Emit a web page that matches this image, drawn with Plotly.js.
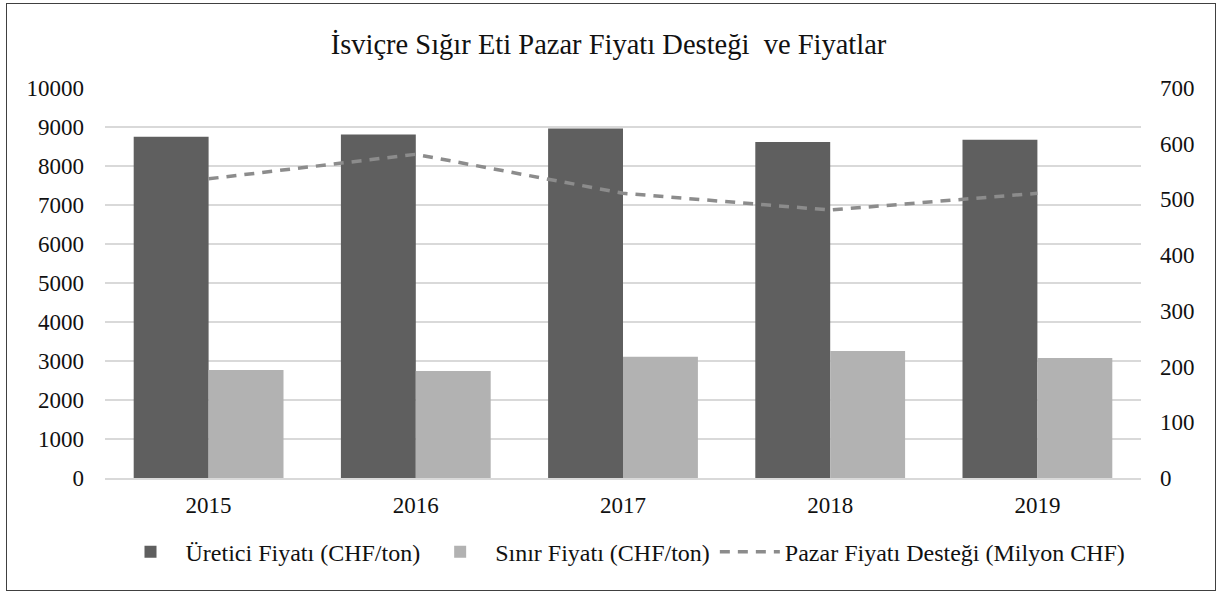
<!DOCTYPE html>
<html>
<head>
<meta charset="utf-8">
<script src="https://cdn.plot.ly/plotly-3.0.1.min.js"></script>
<style>
html,body{margin:0;padding:0;background:#fff;}
#wrap{position:relative;width:1217px;height:592px;}
#chart{position:absolute;left:0;top:0;width:1217px;height:592px;}
#frame{position:absolute;left:6px;top:3px;width:1208px;height:586px;border:1px solid #404040;pointer-events:none;}
</style>
</head>
<body>
<div id="wrap"><div id="chart"></div><div id="frame"></div></div>
<script>
const years = ['2015','2016','2017','2018','2019'];
const ureticiFiyati = [8750, 8810, 8960, 8615, 8670];
const sinirFiyati = [2770, 2745, 3110, 3255, 3075];
const pazarFiyatiDestegi = [537, 581, 511, 481, 511];
const seriesNames = ['Üretici Fiyatı (CHF/ton)', 'Sınır Fiyatı (CHF/ton)', 'Pazar Fiyatı Desteği (Milyon CHF)'];
const leftTicks = [0,1000,2000,3000,4000,5000,6000,7000,8000,9000,10000];
const rightTicks = [0,100,200,300,400,500,600,700];

const fontFam = 'Liberation Serif, Times New Roman, serif';

const traces = [
  {type:'bar', x:years, y:ureticiFiyati, name:seriesNames[0], marker:{color:'#5f5f5f'}, yaxis:'y'},
  {type:'bar', x:years, y:sinirFiyati, name:seriesNames[1], marker:{color:'#b2b2b2'}, yaxis:'y'},
  {type:'scatter', mode:'lines', x:years, y:pazarFiyatiDestegi, name:seriesNames[2], yaxis:'y2',
   line:{color:'#8c8c8c', width:3.5, dash:'10px,8px'}}
];

const layout = {
  width:1217, height:592,
  margin:{l:105, r:76, t:88, b:114},
  paper_bgcolor:'#ffffff', plot_bgcolor:'#ffffff',
  font:{family:fontFam, size:23, color:'#111'},
  title:{text:'İsviçre Sığır Eti Pazar Fiyatı Desteği  ve Fiyatlar', x:0.5, xanchor:'center', y:0.925, yanchor:'middle',
         font:{family:fontFam, size:28.5, color:'#111'}},
  barmode:'group', bargap:0.277, bargroupgap:0,
  showlegend:true,
  legend:{orientation:'h', x:0.5, xanchor:'center', y:-0.19, yanchor:'middle', itemwidth:60, font:{family:fontFam, size:24, color:'#111'}, traceorder:'normal'},
  xaxis:{type:'category', showgrid:false, showline:true, linecolor:'#d9d9d9', linewidth:1.5, ticks:'', tickfont:{family:fontFam, size:23, color:'#111'}, ticklabelstandoff:6},
  yaxis:{range:[0,10000], tickvals:leftTicks, ticktext:leftTicks.map(String), showgrid:true, gridcolor:'#d9d9d9', gridwidth:1.3, zeroline:false, showline:false, ticks:'', tickfont:{family:fontFam, size:23, color:'#111'}, ticklabelstandoff:20},
  yaxis2:{range:[0,700], tickvals:rightTicks, ticktext:rightTicks.map(String), overlaying:'y', side:'right', showgrid:false, zeroline:false, showline:false, ticks:'', tickfont:{family:fontFam, size:23, color:'#111'}, ticklabelstandoff:18}
};

Plotly.newPlot('chart', traces, layout, {displayModeBar:false, staticPlot:true});
</script>
</body>
</html>
